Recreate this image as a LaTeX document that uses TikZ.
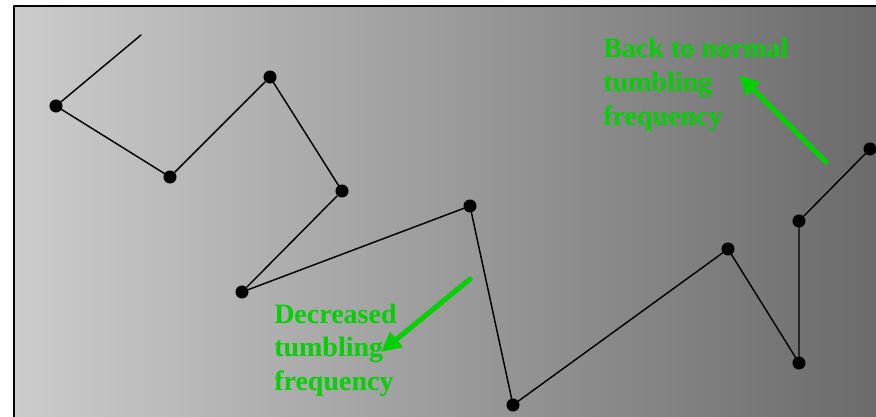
\documentclass[tikz,border=0pt]{standalone}
\usepackage{fontspec}
\setmainfont{Liberation Serif}
\usetikzlibrary{arrows.meta}
\definecolor{labelgreen}{RGB}{0,208,0}
\tikzset{
  dot/.style={circle,fill=black,inner sep=0pt,minimum size=9.8pt},
  walk/.style={line width=1.1pt},
  hint/.style={labelgreen,line width=3.8pt,-{Triangle[length=15pt,width=14pt]}},
  note/.style={labelgreen,font=\fontsize{21}{25.5}\selectfont\bfseries,align=left,anchor=base west,inner sep=0pt}
}
\begin{document}
\begin{tikzpicture}[x=0.75pt,y=-0.75pt,line cap=round,line join=round]
  \useasboundingbox (0,0) rectangle (876,417);
  \shade[left color=black!20,right color=black!58] (14,6) rectangle (876,417);
  \draw[line width=1.5pt,line cap=butt] (14,417)--(14,6)--(876,6);
  % run and tumble path
  \coordinate (s) at (141,35);
  \node[dot] (p1) at (56,106) {};
  \node[dot] (p2) at (170,177) {};
  \node[dot] (p3) at (270,77) {};
  \node[dot] (p4) at (342,191) {};
  \node[dot] (p5) at (242,292) {};
  \node[dot] (p6) at (470,206) {};
  \node[dot] (p7) at (513,405) {};
  \node[dot] (p8) at (728,249) {};
  \node[dot] (p9) at (799,363) {};
  \node[dot] (p10) at (799,221) {};
  \node[dot] (p11) at (870,149) {};
  \draw[walk] (s)--(p1)--(p2)--(p3)--(p4)--(p5)--(p6)--(p7)--(p8)--(p9)--(p10)--(p11);
  % labels (anchored at the baseline of the last line)
  \node[note] (dec) at (274,391) {Decreased\\tumbling\\frequency};
  \node[note] (back) at (603,126) {Back to normal\\tumbling\\frequency};
  \coordinate (a1) at (470,279);
  \coordinate (b1) at (381,352);
  \coordinate (a2) at (826,162);
  \coordinate (b2) at (739,75);
  \draw[hint] (a1)--(b1);
  \draw[hint] (a2)--(b2);
\end{tikzpicture}
\end{document}
